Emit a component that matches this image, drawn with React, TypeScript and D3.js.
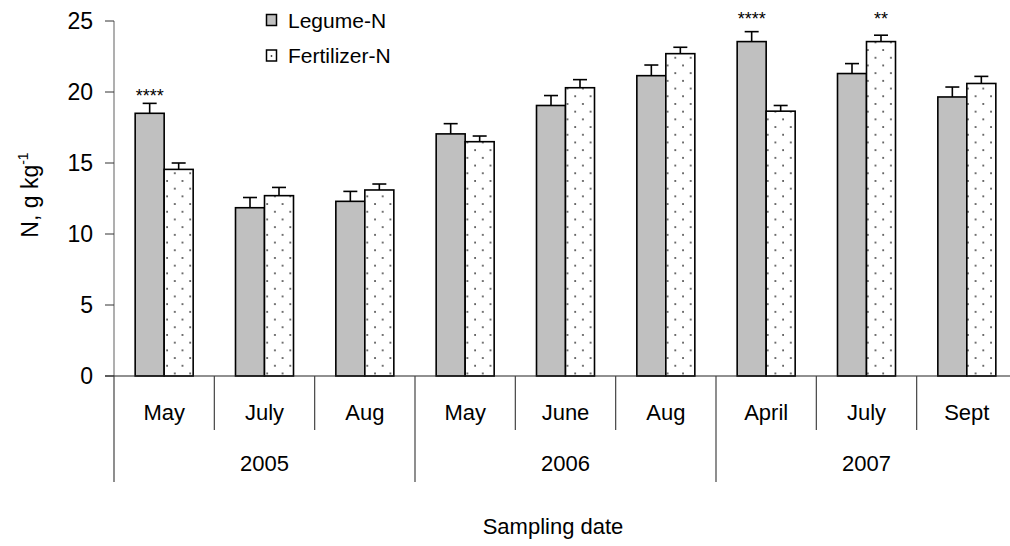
import React from "react";
import * as d3 from "d3";

// Sampling dates (month within year) and the year groups they belong to
const months = ["May", "July", "Aug", "May", "June", "Aug", "April", "July", "Sept"];
const years = ["2005", "2006", "2007"];
const monthsPerYear = [3, 3, 3];

// Plant N concentration, g kg-1, with standard errors (upper whiskers only)
const legumeN = [18.5, 11.85, 12.3, 17.05, 19.05, 21.15, 23.55, 21.3, 19.65];
const legumeErr = [0.7, 0.72, 0.7, 0.72, 0.7, 0.75, 0.7, 0.7, 0.7];
const fertilizerN = [14.55, 12.7, 13.1, 16.5, 20.3, 22.7, 18.65, 23.55, 20.6];
const fertilizerErr = [0.45, 0.58, 0.42, 0.4, 0.57, 0.45, 0.4, 0.45, 0.5];

// Significance marks: which bar of the pair carries them
const signifLabel = ["****", "", "", "", "", "", "****", "**", ""];
const signifSeries = ["legume", "", "", "", "", "", "legume", "fertilizer", ""];

const yTicks = [0, 5, 10, 15, 20, 25];
const seriesKeys = ["legume", "fertilizer"];
const seriesNames = ["Legume-N", "Fertilizer-N"];

const W = 1010;
const H = 546;
const FONT = "Arial, 'Liberation Sans', Helvetica, sans-serif";

export default function App() {
  const y = d3.scaleLinear().domain([0, 25]).range([376, 21]);
  const x = d3
    .scaleBand<number>()
    .domain(months.map((_, i) => i))
    .range([114, 1017])
    .paddingInner(0)
    .paddingOuter(0);
  const inner = d3
    .scaleBand<string>()
    .domain(seriesKeys)
    .range([0, x.bandwidth()])
    .paddingInner(0)
    .paddingOuter(0.73);

  const x0 = y(0);
  const step = x.bandwidth();

  // cumulative month index at each year boundary
  const yearStarts = d3.cumsum([0, ...monthsPerYear]);

  const bars = months.flatMap((_, i) =>
    seriesKeys.map((k) => {
      const v = k === "legume" ? legumeN[i] : fertilizerN[i];
      const e = k === "legume" ? legumeErr[i] : fertilizerErr[i];
      return { i, k, v, e, bx: (x(i) as number) + (inner(k) as number) };
    })
  );

  const bw = inner.bandwidth();

  return (
    <svg
      width={W}
      height={H}
      style={{ position: "absolute", left: 0, top: 0, background: "#fff" }}
      fontFamily={FONT}
    >
      <defs>
        <pattern id="dots" patternUnits="userSpaceOnUse" width={15.4} height={15.4} x={1.5} y={0}>
          <rect width={15.4} height={15.4} fill="#fff" />
          <circle cx={3.9} cy={3.9} r={0.95} fill="#3a3a3a" />
          <circle cx={11.6} cy={11.6} r={0.95} fill="#3a3a3a" />
        </pattern>
      </defs>
      <rect width={W} height={H} fill="#fff" />

      {/* bars */}
      {bars.map((b) => (
        <rect
          key={`${b.k}-${b.i}`}
          x={b.bx}
          y={y(b.v)}
          width={bw}
          height={x0 - y(b.v)}
          fill={b.k === "legume" ? "#c0c0c0" : "url(#dots)"}
          stroke="#000"
          strokeWidth={1.6}
        />
      ))}

      {/* error bars */}
      {bars.map((b) => {
        const cx = b.bx + bw / 2;
        return (
          <g key={`e-${b.k}-${b.i}`} stroke="#000" strokeWidth={1.6}>
            <line x1={cx} x2={cx} y1={y(b.v)} y2={y(b.v + b.e)} />
            <line x1={cx - 7} x2={cx + 7} y1={y(b.v + b.e)} y2={y(b.v + b.e)} />
          </g>
        );
      })}

      {/* significance asterisks: just above the whisker, or on the top row when close to it */}
      {signifLabel.map((s, i) => {
        if (!s) return null;
        const k = signifSeries[i];
        const v = k === "legume" ? legumeN[i] + legumeErr[i] : fertilizerN[i] + fertilizerErr[i];
        const above = y(v) - 11;
        const cy = above < y(25) + 10 ? y(25) - 6 : above;
        const cx = (x(i) as number) + (inner(k) as number) + bw / 2;
        return (
          <text key={`s-${i}`} x={cx} y={cy + 10} textAnchor="middle" fontSize={18} fill="#000">
            {s}
          </text>
        );
      })}

      {/* y axis */}
      <line x1={114} x2={114} y1={y(25)} y2={x0} stroke="#7a7a7a" strokeWidth={1.2} />
      {yTicks.map((t) => (
        <g key={`yt-${t}`}>
          <line x1={105} x2={114} y1={y(t)} y2={y(t)} stroke="#333" strokeWidth={1} />
          <text x={93} y={y(t)} dy="0.36em" textAnchor="end" fontSize={23} fill="#000">
            {t}
          </text>
        </g>
      ))}

      {/* x axis */}
      <line x1={105} x2={W} y1={x0} y2={x0} stroke="#222" strokeWidth={1.2} />
      {d3.range(months.length + 1).map((j) => {
        const xx = 114 + j * step;
        const isYear = yearStarts.includes(j);
        return (
          <line
            key={`div-${j}`}
            x1={xx}
            x2={xx}
            y1={x0}
            y2={isYear ? 482 : 430}
            stroke="#444"
            strokeWidth={1.2}
          />
        );
      })}
      {months.map((m, i) => (
        <text
          key={`m-${i}`}
          x={(x(i) as number) + step / 2}
          y={420}
          textAnchor="middle"
          fontSize={22}
          fill="#000"
        >
          {m}
        </text>
      ))}
      {years.map((yr, k) => (
        <text
          key={`yr-${yr}`}
          x={114 + ((yearStarts[k] + yearStarts[k + 1]) / 2) * step}
          y={471}
          textAnchor="middle"
          fontSize={22}
          fill="#000"
        >
          {yr}
        </text>
      ))}

      {/* axis titles */}
      <text x={553} y={534} textAnchor="middle" fontSize={22} fill="#000">
        Sampling date
      </text>
      <text
        transform="translate(38,195) rotate(-90)"
        textAnchor="middle"
        fontSize={23}
        fill="#000"
      >
        N, g kg
        <tspan fontSize={14} dy={-10}>
          -1
        </tspan>
      </text>

      {/* legend */}
      {seriesKeys.map((k, i) => {
        const ly = 14.5 + i * 35.5;
        return (
          <g key={`lg-${k}`}>
            <rect
              x={266.5}
              y={ly}
              width={10}
              height={11}
              fill={k === "legume" ? "#c0c0c0" : "#fff"}
              stroke="#000"
              strokeWidth={1.5}
            />
            {k === "fertilizer" && <circle cx={271.5} cy={ly + 6} r={0.9} fill="#3a3a3a" />}
            <text x={288} y={27.5 + i * 35.5} fontSize={21} fill="#000">
              {seriesNames[i]}
            </text>
          </g>
        );
      })}
    </svg>
  );
}
